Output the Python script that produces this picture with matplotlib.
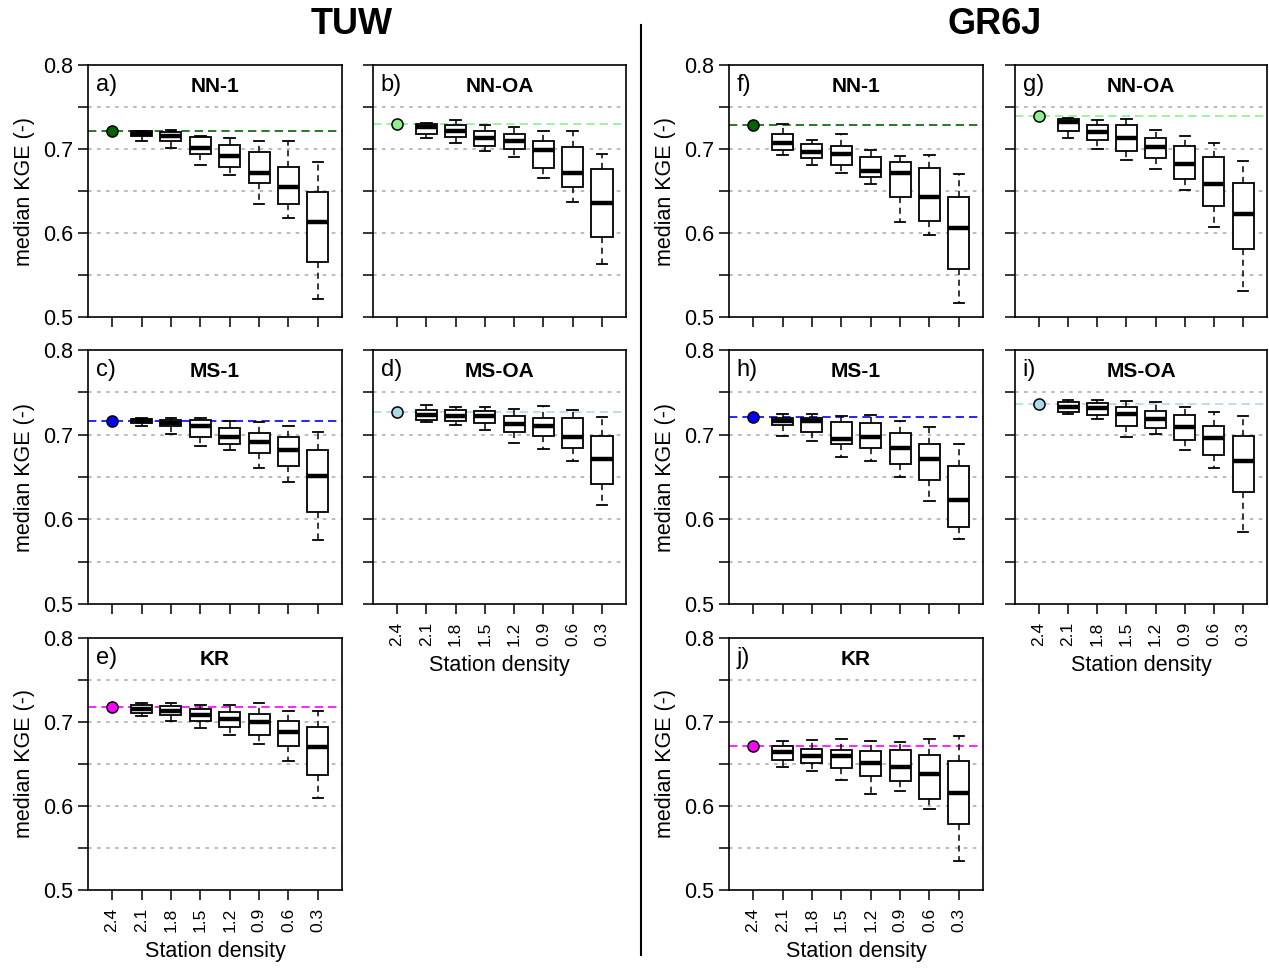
import matplotlib.pyplot as plt
from matplotlib.lines import Line2D

plt.rcParams['font.family'] = ['Liberation Sans', 'DejaVu Sans']

# station densities (x axis)
density = ["2.4", "2.1", "1.8", "1.5", "1.2", "0.9", "0.6", "0.3"]

# each box: (whisker low, q1, median, q3, whisker high) for densities 2.1 ... 0.3
tuw_nn1_ref = 0.722
tuw_nn1 = [(0.710, 0.7155, 0.718, 0.721, 0.722),
           (0.701, 0.710, 0.716, 0.720, 0.7226),
           (0.681, 0.6945, 0.701, 0.714, 0.715),
           (0.669, 0.678, 0.692, 0.705, 0.713),
           (0.6345, 0.659, 0.672, 0.6965, 0.710),
           (0.618, 0.635, 0.655, 0.678, 0.709),
           (0.5215, 0.565, 0.613, 0.649, 0.684)]

tuw_nnoa_ref = 0.730
tuw_nnoa = [(0.7135, 0.7174, 0.726, 0.730, 0.731),
            (0.707, 0.714, 0.722, 0.7285, 0.734),
            (0.698, 0.704, 0.7135, 0.722, 0.728),
            (0.691, 0.700, 0.7095, 0.7174, 0.726),
            (0.665, 0.677, 0.699, 0.710, 0.721),
            (0.6365, 0.6546, 0.672, 0.702, 0.721),
            (0.5626, 0.595, 0.636, 0.676, 0.694)]

tuw_ms1_ref = 0.7165
tuw_ms1 = [(0.7105, 0.7132, 0.716, 0.718, 0.7195),
           (0.7006, 0.710, 0.714, 0.7168, 0.7195),
           (0.6864, 0.6974, 0.710, 0.7172, 0.7195),
           (0.6817, 0.6884, 0.6978, 0.7077, 0.716),
           (0.6604, 0.6789, 0.6919, 0.7022, 0.7148),
           (0.6446, 0.6635, 0.6813, 0.6974, 0.7097),
           (0.5755, 0.6091, 0.6513, 0.6817, 0.7034)]

tuw_msoa_ref = 0.727
tuw_msoa = [(0.7148, 0.7172, 0.7231, 0.729, 0.7349),
            (0.7116, 0.7156, 0.7219, 0.729, 0.7321),
            (0.7053, 0.7132, 0.7219, 0.7278, 0.7325),
            (0.6903, 0.7026, 0.7124, 0.7215, 0.7302),
            (0.6836, 0.6982, 0.7101, 0.7191, 0.7333),
            (0.669, 0.684, 0.6974, 0.7195, 0.7294),
            (0.6174, 0.6414, 0.6718, 0.699, 0.7207)]

tuw_kr_ref = 0.718
tuw_kr = [(0.707, 0.7106, 0.7158, 0.7205, 0.7221),
          (0.7011, 0.7078, 0.7134, 0.7193, 0.7221),
          (0.6927, 0.7015, 0.7082, 0.7154, 0.7205),
          (0.6848, 0.6943, 0.7031, 0.7122, 0.7205),
          (0.6741, 0.6848, 0.6999, 0.709, 0.7221),
          (0.6534, 0.6713, 0.6876, 0.7015, 0.713),
          (0.6101, 0.6375, 0.6697, 0.6943, 0.7126)]

gr_nn1_ref = 0.728
gr_nn1 = [(0.693, 0.6989, 0.7068, 0.7174, 0.7293),
          (0.6815, 0.689, 0.6961, 0.7056, 0.7111),
          (0.6716, 0.6815, 0.6941, 0.704, 0.7174),
          (0.6582, 0.6661, 0.6744, 0.6902, 0.6989),
          (0.6132, 0.6428, 0.6712, 0.6843, 0.6922),
          (0.5974, 0.6143, 0.6424, 0.6776, 0.6934),
          (0.5164, 0.5575, 0.6057, 0.6424, 0.670)]

gr_nnoa_ref = 0.739
gr_nnoa = [(0.7131, 0.7214, 0.732, 0.736, 0.7372),
           (0.6997, 0.7103, 0.7202, 0.7281, 0.734),
           (0.6866, 0.6977, 0.7135, 0.7281, 0.7352),
           (0.6756, 0.6894, 0.702, 0.7135, 0.7226),
           (0.6515, 0.6645, 0.6823, 0.7036, 0.7159),
           (0.6072, 0.6321, 0.6586, 0.691, 0.7068),
           (0.5314, 0.5808, 0.623, 0.6594, 0.6858)]

gr_ms1_ref = 0.7207
gr_ms1 = [(0.6986, 0.7112, 0.716, 0.7195, 0.7247),
          (0.6931, 0.703, 0.716, 0.7199, 0.7247),
          (0.6738, 0.6892, 0.6951, 0.7152, 0.7219),
          (0.6686, 0.6848, 0.6974, 0.7132, 0.7227),
          (0.6505, 0.6655, 0.684, 0.7022, 0.7164),
          (0.6221, 0.6465, 0.6714, 0.6892, 0.7093),
          (0.5767, 0.5909, 0.6225, 0.6627, 0.6884)]

gr_msoa_ref = 0.7365
gr_msoa = [(0.7243, 0.7266, 0.7329, 0.7389, 0.7408),
           (0.7183, 0.7231, 0.7318, 0.7377, 0.7408),
           (0.6978, 0.7105, 0.7243, 0.7329, 0.740),
           (0.7006, 0.7081, 0.7187, 0.7282, 0.7385),
           (0.6824, 0.6939, 0.7085, 0.7227, 0.7329),
           (0.6611, 0.6761, 0.6963, 0.7108, 0.727),
           (0.5854, 0.632, 0.6686, 0.699, 0.7219)]

gr_kr_ref = 0.671
gr_kr = [(0.6466, 0.6545, 0.6644, 0.6715, 0.6779),
         (0.6415, 0.6506, 0.6593, 0.6684, 0.6783),
         (0.6304, 0.6455, 0.6593, 0.6664, 0.6802),
         (0.6146, 0.636, 0.6514, 0.6650, 0.6779),
         (0.6178, 0.630, 0.6462, 0.6664, 0.6767),
         (0.5968, 0.6083, 0.6379, 0.6605, 0.6802),
         (0.534, 0.579, 0.6154, 0.6538, 0.683)]

W, H = 1269, 968
cols = [(88, 342), (373, 626), (729, 983), (1015, 1267)]
rows = [(65, 317), (350, 604), (638, 890)]

# letter, title, data, ref, colour, column, row, y labels, x labels
panels = [
    ("a)", "NN-1", tuw_nn1, tuw_nn1_ref, "#006400", 0, 0, True, False),
    ("b)", "NN-OA", tuw_nnoa, tuw_nnoa_ref, "#90EE90", 1, 0, False, False),
    ("c)", "MS-1", tuw_ms1, tuw_ms1_ref, "#0000FF", 0, 1, True, False),
    ("d)", "MS-OA", tuw_msoa, tuw_msoa_ref, "#ADD8E6", 1, 1, False, True),
    ("e)", "KR", tuw_kr, tuw_kr_ref, "#FF00FF", 0, 2, True, True),
    ("f)", "NN-1", gr_nn1, gr_nn1_ref, "#006400", 2, 0, True, False),
    ("g)", "NN-OA", gr_nnoa, gr_nnoa_ref, "#90EE90", 3, 0, False, False),
    ("h)", "MS-1", gr_ms1, gr_ms1_ref, "#0000FF", 2, 1, True, False),
    ("i)", "MS-OA", gr_msoa, gr_msoa_ref, "#ADD8E6", 3, 1, False, True),
    ("j)", "KR", gr_kr, gr_kr_ref, "#FF00FF", 2, 2, True, True),
]

fig = plt.figure(figsize=(W / 100, H / 100), dpi=100)

yt = [0.5, 0.55, 0.6, 0.65, 0.7, 0.75, 0.8]
ytl = ["0.5", "", "0.6", "", "0.7", "", "0.8"]

for letter, title, data, ref, col, ci, ri, ylab, xlab in panels:
    x0, x1 = cols[ci]
    y0, y1 = rows[ri]
    ax = fig.add_axes([x0 / W, 1 - y1 / H, (x1 - x0) / W, (y1 - y0) / H])

    for g in [0.55, 0.6, 0.65, 0.7, 0.75]:
        ax.axhline(g, color="#b5b5b5", ls=(0, (2, 3)), lw=1.3, zorder=1)
    ax.axhline(ref, color=col, ls=(0, (5, 3)), lw=1.2, zorder=1.5)

    stats = []
    for lo, q1, med, q3, hi in data:
        stats.append(dict(whislo=lo, q1=q1, med=med, q3=q3, whishi=hi))
    ax.bxp(stats, positions=range(2, 9), widths=0.72, capwidths=0.36,
           patch_artist=True, showfliers=False, manage_ticks=False,
           boxprops=dict(facecolor="white", edgecolor="black", lw=1.3),
           medianprops=dict(color="black", lw=3.2, solid_capstyle="butt"),
           whiskerprops=dict(color="black", ls=(0, (4, 3)), lw=1.1),
           capprops=dict(color="black", lw=1.3))
    ax.plot(1, ref, "o", mfc=col, mec="black", mew=1.1, ms=8, zorder=5)

    ax.set_xlim(0.18, 8.82)
    ax.set_ylim(0.5, 0.8)
    ax.set_yticks(yt)
    ax.set_xticks(range(1, 9))
    ax.tick_params(direction="out", length=7, width=1.1)
    ax.tick_params(axis="x", pad=6)
    if ylab:
        ax.set_yticklabels(ytl, fontsize=15.5)
        ax.set_ylabel("median KGE (-)", fontsize=15.5, labelpad=6)
    else:
        ax.set_yticklabels([])
    if xlab:
        ax.set_xticklabels(density, rotation=90, fontsize=12.5)
        ax.set_xlabel("Station density", fontsize=15.5, labelpad=6)
    else:
        ax.set_xticklabels([])
    for s in ax.spines.values():
        s.set_linewidth(1.2)

    ax.text(0.03, 0.92, letter, transform=ax.transAxes, fontsize=17,
            ha="left", va="center")
    ax.text(0.5, 0.915, title, transform=ax.transAxes, fontsize=15,
            fontweight="bold", ha="center", va="center")

fig.text(352 / W, 1 - 25 / H, "TUW", fontsize=26, fontweight="bold",
         ha="center", va="center")
fig.text(995 / W, 1 - 25 / H, "GR6J", fontsize=26, fontweight="bold",
         ha="center", va="center")
fig.add_artist(Line2D([641 / W, 641 / W], [1 - 25 / H, 1 - 955 / H],
                      color="black", lw=1.5, transform=fig.transFigure))

fig.savefig("out.png", dpi=100)
